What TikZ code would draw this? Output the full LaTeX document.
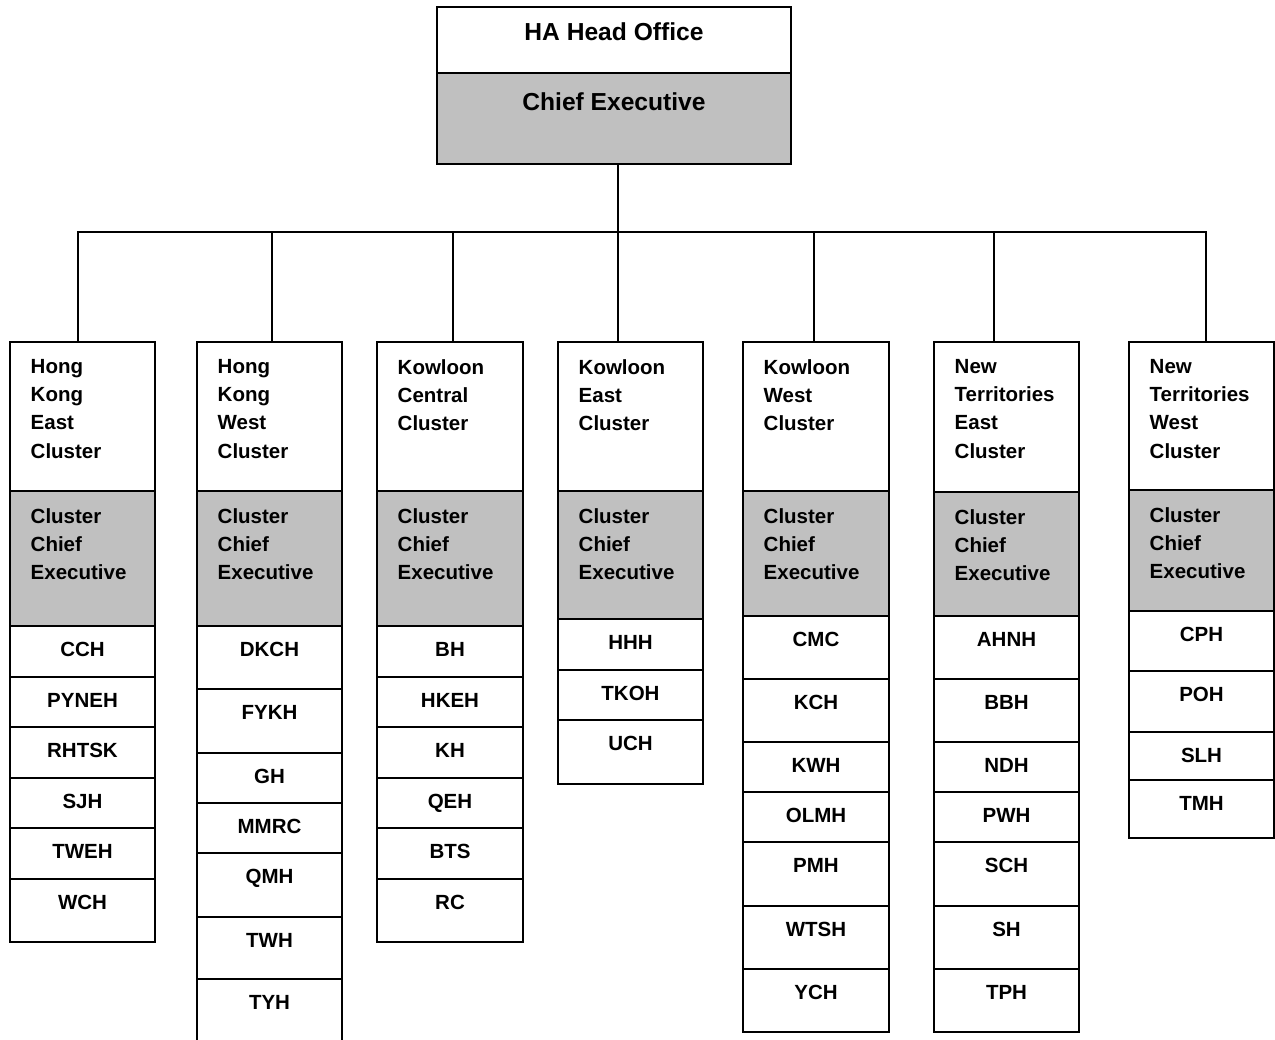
\documentclass[tikz,border=0pt]{standalone}
\usepackage{fontspec}
\setmainfont{Liberation Sans}
\definecolor{boxgray}{RGB}{192,192,192}
\tikzset{
  box/.style={draw=black, line width=1.6pt, rectangle, inner sep=0pt, outer sep=0pt, anchor=north west},
  graybox/.style={box, fill=boxgray},
  ctext/.style={anchor=north west, inner sep=0pt, align=left, font=\bfseries\fontsize{20.5}{28.3}\selectfont},
  htext/.style={anchor=north, inner sep=0pt, font=\bfseries\fontsize{20.5}{24}\selectfont},
  headtext/.style={anchor=north, inner sep=0pt, font=\bfseries\fontsize{24.6}{29}\selectfont},
  link/.style={draw=black, line width=1.6pt},
}
\newcommand\hosprow[6]{%
  \node[box, minimum width={#3-#2}, minimum height={#5-#4}] (#1) at (#2,#4) {};
  \node[htext] (#1t) at ([shift={(0,16)}]#1.north) {#6};
}
\newcommand\clusterhead[6]{%
  \node[box, minimum width={#3-#2}, minimum height={#4-342}] (#1) at (#2,342) {};
  \node[ctext] (#1t) at ([shift={(20.5,17)}]#1.north west) {#6};
  \node[graybox, minimum width={#3-#2}, minimum height={#5-#4}] (#1g) at (#2,#4) {};
  \node[ctext] (#1gt) at ([shift={(20.5,17)}]#1g.north west) {Cluster\\Chief\\Executive};
}
\begin{document}
\begin{tikzpicture}[x=1pt,y=-1pt]
\useasboundingbox (0,0) rectangle (1275,1040);

% head office
\node[box, minimum width=354, minimum height=66] (head) at (437,7) {};
\node[graybox, minimum width=354, minimum height=91] (headg) at (437,73) {};
\node[headtext] (headt) at ([shift={(0,15)}]head.north) {HA Head Office};
\node[headtext] (headgt) at ([shift={(0,19)}]headg.north) {Chief Executive};

% cluster 1
\clusterhead{c1}{10}{155}{491}{626}{Hong\\Kong\\East\\Cluster}
\hosprow{c1r1}{10}{155}{626}{677}{CCH}
\hosprow{c1r2}{10}{155}{677}{727}{PYNEH}
\hosprow{c1r3}{10}{155}{727}{778}{RHTSK}
\hosprow{c1r4}{10}{155}{778}{828}{SJH}
\hosprow{c1r5}{10}{155}{828}{879}{TWEH}
\hosprow{c1r6}{10}{155}{879}{942}{WCH}

% cluster 2
\clusterhead{c2}{197}{342}{491}{626}{Hong\\Kong\\West\\Cluster}
\hosprow{c2r1}{197}{342}{626}{689}{DKCH}
\hosprow{c2r2}{197}{342}{689}{753}{FYKH}
\hosprow{c2r3}{197}{342}{753}{803}{GH}
\hosprow{c2r4}{197}{342}{803}{853}{MMRC}
\hosprow{c2r5}{197}{342}{853}{917}{QMH}
\hosprow{c2r6}{197}{342}{917}{979}{TWH}
\hosprow{c2r7}{197}{342}{979}{1048}{TYH}

% cluster 3
\clusterhead{c3}{377}{523}{491}{626}{Kowloon\\Central\\Cluster}
\hosprow{c3r1}{377}{523}{626}{677}{BH}
\hosprow{c3r2}{377}{523}{677}{727}{HKEH}
\hosprow{c3r3}{377}{523}{727}{778}{KH}
\hosprow{c3r4}{377}{523}{778}{828}{QEH}
\hosprow{c3r5}{377}{523}{828}{879}{BTS}
\hosprow{c3r6}{377}{523}{879}{942}{RC}

% cluster 4
\clusterhead{c4}{558}{703}{491}{619}{Kowloon\\East\\Cluster}
\hosprow{c4r1}{558}{703}{619}{670}{HHH}
\hosprow{c4r2}{558}{703}{670}{720}{TKOH}
\hosprow{c4r3}{558}{703}{720}{784}{UCH}

% cluster 5
\clusterhead{c5}{743}{889}{491}{616}{Kowloon\\West\\Cluster}
\hosprow{c5r1}{743}{889}{616}{679}{CMC}
\hosprow{c5r2}{743}{889}{679}{742}{KCH}
\hosprow{c5r3}{743}{889}{742}{792}{KWH}
\hosprow{c5r4}{743}{889}{792}{842}{OLMH}
\hosprow{c5r5}{743}{889}{842}{906}{PMH}
\hosprow{c5r6}{743}{889}{906}{969}{WTSH}
\hosprow{c5r7}{743}{889}{969}{1032}{YCH}

% cluster 6
\clusterhead{c6}{934}{1079}{492}{616}{New\\Territories\\East\\Cluster}
\hosprow{c6r1}{934}{1079}{616}{679}{AHNH}
\hosprow{c6r2}{934}{1079}{679}{742}{BBH}
\hosprow{c6r3}{934}{1079}{742}{792}{NDH}
\hosprow{c6r4}{934}{1079}{792}{842}{PWH}
\hosprow{c6r5}{934}{1079}{842}{906}{SCH}
\hosprow{c6r6}{934}{1079}{906}{969}{SH}
\hosprow{c6r7}{934}{1079}{969}{1032}{TPH}

% cluster 7
\clusterhead{c7}{1129}{1274}{490}{611}{New\\Territories\\West\\Cluster}
\hosprow{c7r1}{1129}{1274}{611}{671}{CPH}
\hosprow{c7r2}{1129}{1274}{671}{732}{POH}
\hosprow{c7r3}{1129}{1274}{732}{780}{SLH}
\hosprow{c7r4}{1129}{1274}{780}{838}{TMH}

% connectors
\coordinate (hub) at (618,232);
\coordinate (b1) at (78,232);
\coordinate (b2) at (272,232);
\coordinate (b3) at (453,232);
\coordinate (b4) at (618,232);
\coordinate (b5) at (814,232);
\coordinate (b6) at (994,232);
\coordinate (b7) at (1206,232);
\draw[link] (headg.south -| hub) -- (hub);
\draw[link] ([xshift=-0.8pt]b1) -- ([xshift=0.8pt]b7);
\foreach \i in {1,...,7}{
  \draw[link] (b\i) -- (b\i |- c\i.north);
}
\end{tikzpicture}
\end{document}
